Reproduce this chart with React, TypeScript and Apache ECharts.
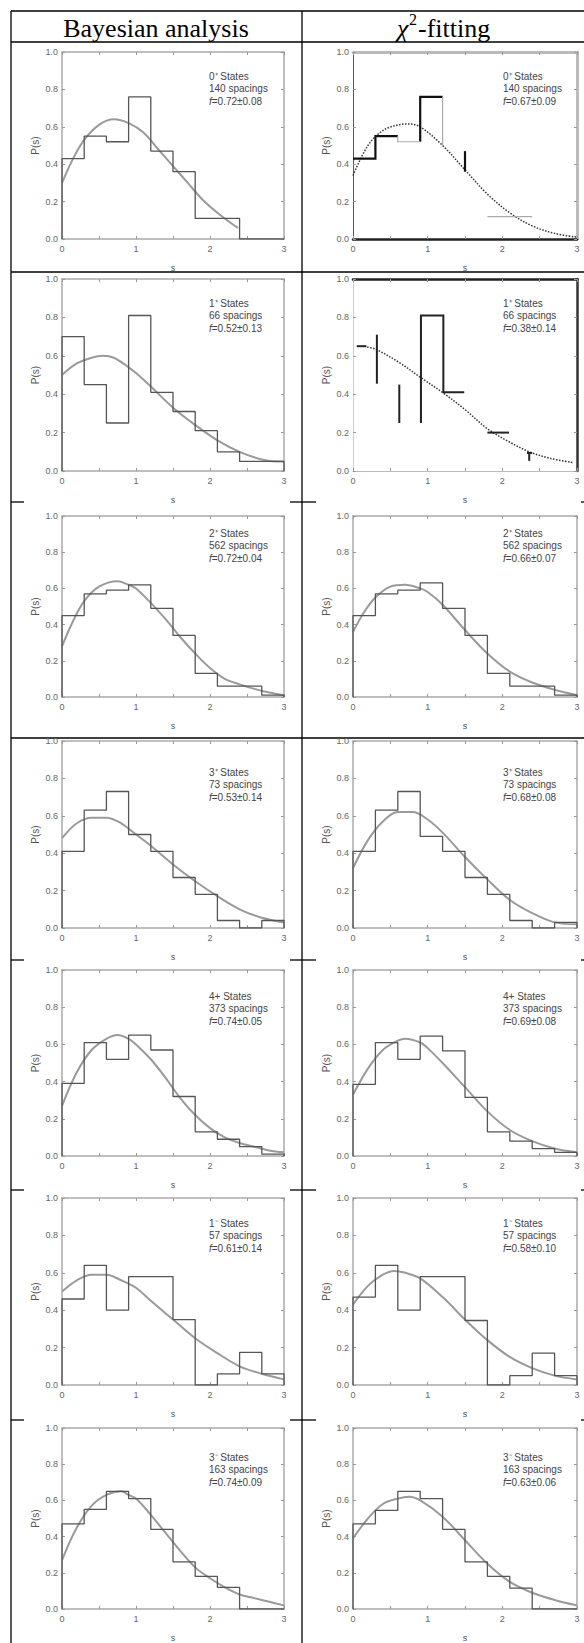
import React, { useEffect, useRef } from "react";
import * as echarts from "echarts";

// ---------------- data ----------------
const binEdges = [0, 0.3, 0.6, 0.9, 1.2, 1.5, 1.8, 2.1, 2.4, 2.7, 3.0];
const xTickLabels = ["0", "1", "2", "3"];
const yTickLabels = ["0.0", "0.2", "0.4", "0.6", "0.8", "1.0"];

const stateLabels = ["0⁺ States", "1⁺ States", "2⁺ States", "3⁺ States", "4+ States", "1⁻ States", "3⁻ States"];
const spacingCounts = [140, 66, 562, 73, 373, 57, 163];
const bayesF = ["0.72±0.08", "0.52±0.13", "0.72±0.04", "0.53±0.14", "0.74±0.05", "0.61±0.14", "0.74±0.09"];
const chiF = ["0.67±0.09", "0.38±0.14", "0.66±0.07", "0.68±0.08", "0.69±0.08", "0.58±0.10", "0.63±0.06"];

const bayesHistograms = [
  [0.43, 0.55, 0.52, 0.76, 0.47, 0.36, 0.11, 0.11, 0, 0],
  [0.70, 0.45, 0.25, 0.81, 0.41, 0.31, 0.21, 0.10, 0.05, 0.05],
  [0.45, 0.57, 0.59, 0.62, 0.49, 0.34, 0.13, 0.06, 0.06, 0.01],
  [0.41, 0.63, 0.73, 0.50, 0.41, 0.27, 0.18, 0.04, 0, 0.04],
  [0.39, 0.61, 0.52, 0.65, 0.57, 0.32, 0.13, 0.09, 0.05, 0.01],
  [0.46, 0.64, 0.40, 0.58, 0.58, 0.35, 0, 0.06, 0.175, 0.06],
  [0.47, 0.55, 0.65, 0.61, 0.44, 0.26, 0.18, 0.12, 0, 0],
];

// rows 1 and 2 of the chi^2 column are degraded in the scan: only pieces are visible
const chiHistograms = [
  null,
  null,
  [0.45, 0.57, 0.59, 0.63, 0.49, 0.34, 0.13, 0.06, 0.06, 0.01],
  [0.41, 0.63, 0.73, 0.49, 0.41, 0.27, 0.18, 0.04, 0, 0.03],
  [0.385, 0.61, 0.52, 0.645, 0.565, 0.315, 0.13, 0.08, 0.04, 0.02],
  [0.47, 0.64, 0.40, 0.58, 0.58, 0.345, 0, 0.05, 0.17, 0.05],
  [0.47, 0.545, 0.65, 0.61, 0.44, 0.26, 0.18, 0.115, 0, 0],
];

const chi0DarkSegments = [
  [[0, 0.43], [0.3, 0.43], [0.3, 0.55], [0.6, 0.55]],
  [[0.9, 0.52], [0.9, 0.76], [1.2, 0.76]],
  [[1.5, 0.47], [1.5, 0.36]],
];
const chi0LightSegments = [
  [[0.6, 0.55], [0.6, 0.52], [0.9, 0.52]],
  [[1.2, 0.76], [1.2, 0.5]],
  [[1.8, 0.12], [2.4, 0.12]],
];
const chi1DarkSegments = [
  [[0.05, 0.65], [0.18, 0.65]],
  [[0.32, 0.71], [0.32, 0.455]],
  [[0.62, 0.45], [0.62, 0.25]],
  [[0.91, 0.25], [0.91, 0.81], [1.21, 0.81], [1.21, 0.41], [1.49, 0.41]],
  [[1.8, 0.2], [2.09, 0.2]],
  [[2.36, 0.053], [2.36, 0.094]],
  [[2.33, 0.094], [2.4, 0.094]],
];

const bayesCurves = [
  [[0, 0.30], [0.15, 0.43], [0.3, 0.53], [0.5, 0.61], [0.7, 0.64], [0.9, 0.62], [1.1, 0.57], [1.3, 0.48], [1.5, 0.39], [1.7, 0.30], [1.9, 0.21], [2.1, 0.14], [2.3, 0.08], [2.38, 0.06]],
  [[0, 0.50], [0.2, 0.56], [0.4, 0.59], [0.55, 0.60], [0.7, 0.59], [0.9, 0.54], [1.0, 0.51], [1.2, 0.44], [1.5, 0.33], [1.8, 0.24], [2.1, 0.16], [2.4, 0.10], [2.7, 0.06], [2.9, 0.05], [3.0, 0.05]],
  [[0, 0.28], [0.15, 0.42], [0.3, 0.53], [0.5, 0.61], [0.75, 0.64], [0.9, 0.62], [1.0, 0.60], [1.2, 0.52], [1.4, 0.43], [1.6, 0.33], [1.8, 0.24], [2.0, 0.16], [2.2, 0.10], [2.4, 0.07], [2.6, 0.045], [2.8, 0.025], [3.0, 0.01]],
  [[0, 0.48], [0.2, 0.56], [0.4, 0.59], [0.6, 0.59], [0.8, 0.56], [1.0, 0.50], [1.2, 0.44], [1.5, 0.34], [1.8, 0.25], [2.1, 0.17], [2.4, 0.10], [2.7, 0.055], [3.0, 0.03]],
  [[0, 0.27], [0.2, 0.45], [0.4, 0.57], [0.6, 0.63], [0.75, 0.65], [0.9, 0.63], [1.0, 0.60], [1.2, 0.52], [1.4, 0.42], [1.6, 0.31], [1.8, 0.22], [2.0, 0.15], [2.2, 0.10], [2.4, 0.07], [2.6, 0.05], [2.8, 0.03], [3.0, 0.02]],
  [[0, 0.50], [0.2, 0.56], [0.4, 0.59], [0.6, 0.59], [0.8, 0.56], [1.0, 0.52], [1.2, 0.45], [1.5, 0.35], [1.8, 0.25], [2.1, 0.17], [2.4, 0.10], [2.7, 0.06], [3.0, 0.03]],
  [[0, 0.27], [0.2, 0.45], [0.4, 0.57], [0.6, 0.63], [0.8, 0.65], [0.9, 0.63], [1.0, 0.61], [1.2, 0.52], [1.4, 0.42], [1.6, 0.32], [1.8, 0.23], [2.0, 0.17], [2.2, 0.12], [2.4, 0.08], [2.6, 0.06], [2.8, 0.04], [3.0, 0.02]],
];

const chiCurves = [
  [[0, 0.34], [0.2, 0.50], [0.4, 0.58], [0.6, 0.61], [0.75, 0.615], [0.9, 0.60], [1.2, 0.50], [1.5, 0.37], [1.8, 0.24], [2.1, 0.14], [2.4, 0.07], [2.7, 0.03], [3.0, 0.01]],
  [[0.19, 0.645], [0.3, 0.635], [0.62, 0.565], [0.91, 0.486], [1.21, 0.406], [1.5, 0.32], [1.8, 0.22], [2.1, 0.15], [2.36, 0.10], [2.65, 0.065], [2.95, 0.044]],
  [[0, 0.36], [0.15, 0.47], [0.3, 0.55], [0.5, 0.61], [0.7, 0.62], [0.9, 0.60], [1.0, 0.58], [1.2, 0.51], [1.5, 0.37], [1.8, 0.24], [2.1, 0.14], [2.4, 0.08], [2.7, 0.04], [3.0, 0.01]],
  [[0, 0.32], [0.2, 0.47], [0.4, 0.57], [0.6, 0.62], [0.8, 0.62], [1.0, 0.58], [1.2, 0.51], [1.5, 0.38], [1.8, 0.26], [2.1, 0.15], [2.4, 0.08], [2.7, 0.03], [3.0, 0.02]],
  [[0, 0.33], [0.2, 0.47], [0.4, 0.57], [0.6, 0.62], [0.7, 0.63], [0.9, 0.61], [1.0, 0.58], [1.2, 0.50], [1.5, 0.37], [1.8, 0.24], [2.1, 0.14], [2.4, 0.08], [2.7, 0.04], [3.0, 0.02]],
  [[0, 0.43], [0.2, 0.53], [0.4, 0.59], [0.55, 0.61], [0.7, 0.60], [0.9, 0.57], [1.2, 0.47], [1.5, 0.35], [1.8, 0.24], [2.1, 0.15], [2.4, 0.09], [2.7, 0.05], [3.0, 0.03]],
  [[0, 0.39], [0.2, 0.50], [0.4, 0.58], [0.6, 0.61], [0.75, 0.62], [0.9, 0.60], [1.2, 0.51], [1.5, 0.38], [1.8, 0.25], [2.1, 0.15], [2.4, 0.09], [2.7, 0.05], [3.0, 0.02]],
];

// ---------------- layout ----------------
const FONT = 'Arial, "Liberation Sans", sans-serif';
const SERIF = '"Times New Roman", "Liberation Serif", serif';
const rowTops = [52, 279, 516, 741, 970, 1198, 1428];
const rowHeights = [187, 192, 181, 187, 186, 187, 186];
const colLefts = [62, 353];
const colWidths = [222, 224];
const annDy = [24, 24, 17, 31, 26, 25, 29];
const annDx = [147, 150];

const defaultFrame = { bottom: ["#aaa", 1.5], top: ["#aaa", 1.5], left: ["#aaa", 1.5], right: ["#aaa", 1.5] };
const specialFrames: Record<string, any> = {
  "0-1": { bottom: ["#222", 2.5], top: ["#bbb", 3], left: ["#555", 1], right: ["#bbb", 3] },
  "1-1": { bottom: ["#bbb", 1.2], top: ["#222", 2.5], left: ["#ccc", 1], right: ["#333", 2.5] },
};

function histPoints(h: number[]) {
  const pts: number[][] = [[0, 0]];
  h.forEach((v, i) => {
    pts.push([binEdges[i], v]);
    pts.push([binEdges[i + 1], v]);
  });
  pts.push([3, 0]);
  return pts;
}

function buildOption() {
  const grid: any[] = [];
  const xAxis: any[] = [];
  const yAxis: any[] = [];
  const series: any[] = [];
  const graphic: any[] = [];

  const tick = { show: true, inside: true, length: 3, lineStyle: { color: "#999", width: 1 } };

  for (let r = 0; r < 7; r++) {
    for (let c = 0; c < 2; c++) {
      const g = r * 2 + c;
      const fr = specialFrames[`${r}-${c}`] || defaultFrame;
      grid.push({ left: colLefts[c], top: rowTops[r], width: colWidths[c], height: rowHeights[r] });
      xAxis.push({
        gridIndex: g, type: "value", min: 0, max: 3, interval: 0.5, position: "bottom",
        axisLine: { show: true, onZero: false, lineStyle: { color: fr.bottom[0], width: fr.bottom[1] } },
        axisTick: tick,
        axisLabel: {
          margin: 5, fontSize: 9, color: "#666", fontFamily: FONT,
          formatter: (v: number) => (Number.isInteger(v) ? xTickLabels[v] : ""),
        },
        splitLine: { show: false },
        name: "s", nameLocation: "middle", nameGap: 24,
        nameTextStyle: { fontSize: 9, color: "#555", fontFamily: FONT },
      });
      xAxis.push({
        gridIndex: g, type: "value", min: 0, max: 3, interval: 0.5, position: "top",
        axisLine: { show: true, onZero: false, lineStyle: { color: fr.top[0], width: fr.top[1] } },
        axisTick: tick, axisLabel: { show: false }, splitLine: { show: false },
      });
      yAxis.push({
        gridIndex: g, type: "value", min: 0, max: 1, interval: 0.2, position: "left",
        axisLine: { show: true, onZero: false, lineStyle: { color: fr.left[0], width: fr.left[1] } },
        axisTick: tick,
        axisLabel: {
          margin: 4, fontSize: 9, color: "#666", fontFamily: FONT,
          formatter: (v: number) => yTickLabels[Math.round(v * 5)],
        },
        splitLine: { show: false },
        name: "P(s)", nameLocation: "middle", nameGap: 22, nameRotate: 90,
        nameTextStyle: { fontSize: 10, color: "#555", fontFamily: FONT },
      });
      yAxis.push({
        gridIndex: g, type: "value", min: 0, max: 1, interval: 0.2, position: "right",
        axisLine: { show: true, onZero: false, lineStyle: { color: fr.right[0], width: fr.right[1] } },
        axisTick: tick, axisLabel: { show: false }, splitLine: { show: false },
      });

      const xi = 2 * g;
      const yi = 2 * g;
      const degraded = c === 1 && r < 2;
      const curve = c === 0 ? bayesCurves[r] : chiCurves[r];
      series.push({
        type: "line", xAxisIndex: xi, yAxisIndex: yi, data: curve, smooth: 0.35,
        symbol: "none", z: 2, silent: true,
        lineStyle: degraded
          ? { color: "#333", width: 1.5, type: "dotted" }
          : { color: "#9a9a9a", width: 2 },
      });
      if (!degraded) {
        const h = c === 0 ? bayesHistograms[r] : (chiHistograms[r] as number[]);
        series.push({
          type: "line", xAxisIndex: xi, yAxisIndex: yi, data: histPoints(h),
          symbol: "none", z: 3, silent: true,
          lineStyle: { color: "#555", width: 1.3 },
        });
      } else if (r === 0) {
        series.push({
          type: "lines", coordinateSystem: "cartesian2d", xAxisIndex: xi, yAxisIndex: yi,
          polyline: true, silent: true, z: 3,
          data: chi0DarkSegments.map((s) => ({ coords: s })),
          lineStyle: { color: "#111", width: 2.2, opacity: 1 },
        });
        series.push({
          type: "lines", coordinateSystem: "cartesian2d", xAxisIndex: xi, yAxisIndex: yi,
          polyline: true, silent: true, z: 3,
          data: chi0LightSegments.map((s) => ({ coords: s })),
          lineStyle: { color: "#aaa", width: 1.2, opacity: 1 },
        });
      } else {
        series.push({
          type: "lines", coordinateSystem: "cartesian2d", xAxisIndex: xi, yAxisIndex: yi,
          polyline: true, silent: true, z: 3,
          data: chi1DarkSegments.map((s) => ({ coords: s })),
          lineStyle: { color: "#222", width: 2, opacity: 1 },
        });
      }

      const fval = c === 0 ? bayesF[r] : chiF[r];
      graphic.push({
        type: "text",
        x: colLefts[c] + annDx[c],
        y: rowTops[r] + annDy[r] - 6,
        z: 10,
        style: {
          text: `{a|${stateLabels[r]}}\n{a|${spacingCounts[r]} spacings}\n{i|f}{a|=${fval}}`,
          align: "left",
          verticalAlign: "top",
          rich: {
            a: { fontSize: 10, fontFamily: FONT, fill: "#444", lineHeight: 12.5 },
            i: { fontSize: 10, fontFamily: FONT, fontStyle: "italic", fill: "#444", lineHeight: 12.5 },
          },
        },
      });
    }
  }

  // table rules
  const lineStyle = { stroke: "#000", lineWidth: 1.3 };
  const hFull = [11, 42, 272, 738];
  const hPartial = [502, 960, 1190, 1420];
  hFull.forEach((y) => graphic.push({ type: "line", shape: { x1: 11, y1: y, x2: 584, y2: y }, style: lineStyle }));
  hPartial.forEach((y) => {
    graphic.push({ type: "line", shape: { x1: 11, y1: y, x2: 24, y2: y }, style: lineStyle });
    graphic.push({ type: "line", shape: { x1: 290, y1: y, x2: 316, y2: y }, style: lineStyle });
    graphic.push({ type: "line", shape: { x1: 581, y1: y, x2: 584, y2: y }, style: lineStyle });
  });
  [11, 302].forEach((x) => graphic.push({ type: "line", shape: { x1: x, y1: 11, x2: x, y2: 1643 }, style: lineStyle }));

  // header
  graphic.push({
    type: "text", x: 156, y: 28,
    style: { text: "Bayesian analysis", font: `26px ${SERIF}`, fill: "#000", align: "center", verticalAlign: "middle" },
  });
  graphic.push({
    type: "text", x: 397, y: 28,
    style: { text: "χ", font: `italic 26px ${SERIF}`, fill: "#000", align: "left", verticalAlign: "middle" },
  });
  graphic.push({
    type: "text", x: 409, y: 19,
    style: { text: "2", font: `16px ${SERIF}`, fill: "#000", align: "left", verticalAlign: "middle" },
  });
  graphic.push({
    type: "text", x: 418, y: 28,
    style: { text: "-fitting", font: `26px ${SERIF}`, fill: "#000", align: "left", verticalAlign: "middle" },
  });

  return {
    animation: false,
    backgroundColor: "#fff",
    grid,
    xAxis,
    yAxis,
    series,
    graphic,
  };
}

export default function App() {
  const ref = useRef<HTMLDivElement>(null);
  useEffect(() => {
    const chart = echarts.init(ref.current!, null, { renderer: "svg" });
    chart.setOption(buildOption() as any);
    return () => chart.dispose();
  }, []);
  return (
    <div
      ref={ref}
      style={{ position: "absolute", left: 0, top: 0, width: 584, height: 1643, background: "#fff" }}
    />
  );
}
